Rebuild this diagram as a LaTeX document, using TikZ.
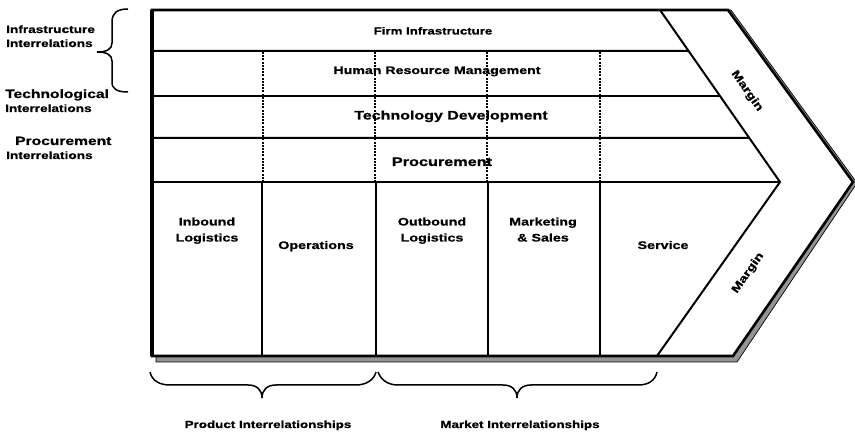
\documentclass[tikz,border=0pt]{standalone}
\usepackage{fontspec}
\setmainfont{Liberation Sans}[FakeStretch=1.3,FakeBold=0.8]
\usetikzlibrary{calc}
\tikzset{
  txt/.style={inner sep=0pt, anchor=base, align=center, font=\bfseries\fontsize{#1}{16}\selectfont},
  txt/.default=11,
  ltxt/.style={inner sep=0pt, anchor=base west, align=left, font=\bfseries\fontsize{#1}{14}\selectfont},
  ltxt/.default=10.5,
  frame/.style={line width=2.6pt, line join=miter},
  rowline/.style={line width=2pt},
  dashline/.style={line width=2.2pt, dash pattern=on 2pt off 1.2pt},
  bracestyle/.style={line width=1.5pt},
  shadow/.style={fill=black!42, draw=black, line width=0.7pt}
}
\begin{document}
\begin{tikzpicture}[x=1pt,y=-1pt]
\useasboundingbox[fill=white] (0,0) rectangle (855,435);
% key points
\coordinate (TL) at (152,10);
\coordinate (TR) at (728,10);
\coordinate (OT) at (853,182);
\coordinate (BR) at (733,356);
\coordinate (BL) at (152,356);
\coordinate (IT) at (660,10);
\coordinate (IP) at (780,182);
\coordinate (IB) at (657,356);
% shadow band
\draw[shadow] (156,356) -- (BR) -- (OT) -- (TR) -- (731,10) -- (857,183) -- (737,362) -- (156,362) -- cycle;
% main frame
\draw[frame, fill=white] (TL) -- (TR) -- (OT) -- (BR) -- (BL) -- cycle;
\draw[line width=3.4pt] (TL) -- (BL);
% inner chevron
\draw[rowline, line join=miter] (IT) -- (IP) -- (IB);
% row separators
\foreach \y/\n in {51/a,96/b,138/c}{
  \coordinate (L\n) at (152,\y);
  \coordinate (R\n) at ($(IT)!{(\y-10)/172}!(IP)$);
  \draw[rowline] (L\n) -- (R\n);
}
\coordinate (Ld) at (152,182);
\draw[rowline] (Ld) -- (IP);
% dashed verticals in support area
\foreach \x in {263,375,487,600}{
  \draw[dashline] (\x,52) -- (\x,181);
}
% solid verticals in primary area
\foreach \x in {262,376,488,600}{
  \draw[rowline] (\x,182) -- (\x,355);
}
% support activity labels
\node[txt=10.2] (firm) at (433,34.5) {Firm Infrastructure};
\node[txt=10.9] (hrm) at (437,74) {Human Resource Management};
\node[txt=12.3] (tech) at (451,119.5) {Technology Development};
\node[txt=12.5] (proc) at (442,166) {Procurement};
% primary activity labels
\node[txt=11] (inb) at (207,241.5) {Inbound\\Logistics};
\node[txt=11] (ops) at (316,249) {Operations};
\node[txt=11] (outb) at (432,241.5) {Outbound\\Logistics};
\node[txt=11] (mkt) at (543,241.5) {Marketing\\\& Sales};
\node[txt=11] (serv) at (663,249) {Service};
% margins
\node[inner sep=0pt, font=\bfseries\fontsize{11}{14}\selectfont, rotate=-55] (m1) at (747,91) {Margin};
\node[inner sep=0pt, font=\bfseries\fontsize{11}{14}\selectfont, rotate=55] (m2) at (748,273) {Margin};
% left labels
\node[ltxt=10.5] (infra) at (6,47) {Infrastructure\\Interrelations};
\node[ltxt=12] (techrel) at (5,112) {Technological\\{\fontsize{10.5}{14}\selectfont Interrelations}};
\node[ltxt=12] (procrel) at (6,159) {\hspace*{9pt}Procurement\\{\fontsize{10.5}{14}\selectfont Interrelations}};
% left brace
\coordinate (b1s) at (128,9);
\coordinate (b1t) at (97,52);
\coordinate (b1e) at (128,92);
\draw[bracestyle] (b1s) .. controls (117,9) and (112,13) .. (112,22) -- (112,43)
  .. controls (112,49) and (107,52) .. (b1t)
  .. controls (107,52) and (112,55) .. (112,61) -- (112,82)
  .. controls (112,89) and (117,92) .. (b1e);
% bottom braces
\coordinate (p1) at (150,372);
\coordinate (pt) at (262,398);
\coordinate (p2) at (376,372);
\draw[bracestyle] (p1) .. controls (152,381) and (160,385) .. (170,385) -- (248,385)
  .. controls (257,385) and (262,390) .. (pt)
  .. controls (262,390) and (267,385) .. (276,385) -- (356,385)
  .. controls (366,385) and (374,380) .. (p2);
\coordinate (q1) at (378,372);
\coordinate (qt) at (517,398);
\coordinate (q2) at (657,372);
\draw[bracestyle] (q1) .. controls (381,380) and (388,385) .. (398,385) -- (503,385)
  .. controls (512,385) and (517,390) .. (qt)
  .. controls (517,390) and (522,385) .. (531,385) -- (638,385)
  .. controls (648,385) and (655,381) .. (q2);
\node[txt=10.3] (prodrel) at (268,428) {Product Interrelationships};
\node[txt=10.3] (mktrel) at (520,428) {Market Interrelationships};
\end{tikzpicture}
\end{document}
